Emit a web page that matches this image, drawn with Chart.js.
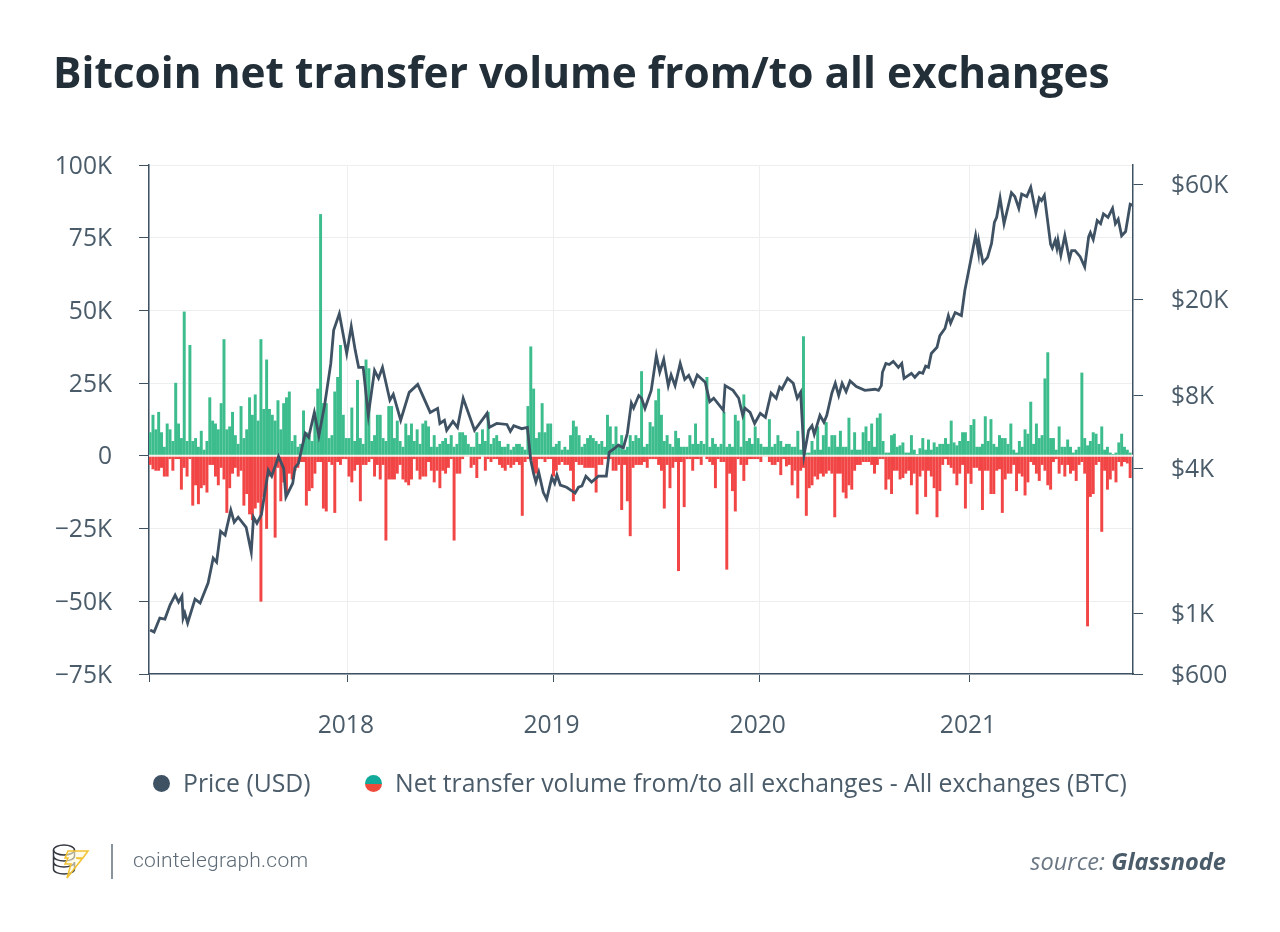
<!DOCTYPE html>
<html><head><meta charset="utf-8">
<script src="https://cdn.jsdelivr.net/npm/chart.js@4"></script>
<style>
html,body{margin:0;padding:0;background:#fff;width:1280px;height:932px;overflow:hidden}
#wrap{position:relative;width:1280px;height:932px;font-family:"Open Sans",sans-serif;color:#4a5b69}
canvas{position:absolute;left:0;top:0}
.t{position:absolute;white-space:nowrap}
#title{left:53px;top:42px;font-size:42.4px;font-weight:700;color:#232f38;line-height:60px}
.leg{font-size:24.75px;line-height:32px;top:767px}
.dot{position:absolute;width:17px;height:17px;border-radius:50%;top:775px}
#site{left:133px;top:846px;font:300 21px/28px Roboto,sans-serif;color:#5e6b76;letter-spacing:.25px}
#src{right:54px;top:845px;font-size:23.6px;line-height:32px;font-style:italic;color:#6b7884}
#src b{color:#4a5b69;font-weight:700}
#bar{position:absolute;left:111px;top:844px;width:2px;height:35px;background:#8a939a}
</style></head><body>
<div id="wrap">
<canvas id="c" width="1280" height="932"></canvas>
<div class="t" id="title">Bitcoin net transfer volume from/to all exchanges</div>
<div class="dot" style="left:153px;background:#3f5264"></div>
<div class="t leg" style="left:183px">Price (USD)</div>
<div class="dot" style="left:365px;background:linear-gradient(#11a99a 50%,#f04a3a 50%)"></div>
<div class="t leg" style="left:395px">Net transfer volume from/to all exchanges - All exchanges (BTC)</div>
<svg style="position:absolute;left:52px;top:843px" width="40" height="38" viewBox="0 0 40 38" fill="none">
<g stroke="#33393f" stroke-width="1.5"><ellipse cx="12" cy="7" rx="10.5" ry="5"/><path d="M1.500 7v6c0 3 5 5 10.500 5s10.500-2 10.500-5V7M1.500 13v6c0 3 5 5 10.500 5s10.500-2 10.500-5M1.500 19v7c0 3 5 5 10.500 5s10.500-2 10.500-5v-7"/></g>
<path d="M16 8h20l-5 7h-7l6 1-15 19 4-14h-6l3-6h-3z" stroke="#f2c230" stroke-width="1.500" fill="#fff8d8" fill-opacity=".6"/>
</svg>
<div id="bar"></div>
<div class="t" id="site">cointelegraph.com</div>
<div class="t" id="src">source: <b>Glassnode</b></div>
</div>
<script>
const yearTickDays=[0,350,712,1075,1445];
const yearTickLabels=['','2018','2019','2020','2021'];
const netTicksK=[-75,-50,-25,0,25,50,75,100];
const priceTickValues=[558,1000,4000,8000,20000,60000];
const priceTickLabels=['$600','$1K','$4K','$8K','$20K','$60K'];

const priceDays=[2,9,19,28,37,46,52,58,60,63,68,81,90,104,113,119,126,134,144,150,157,171,180,184,190,198,210,216,228,237,241,253,257,263,275,281,291,299,309,320,325,335,348,356,363,369,377,386,397,404,411,424,430,443,458,473,495,508,512,520,524,535,543,553,573,595,599,612,630,636,642,656,666,672,677,681,686,694,700,709,714,718,724,735,750,756,762,769,779,791,805,810,818,826,835,842,849,853,862,867,873,884,893,899,906,914,919,926,935,943,950,958,965,979,987,994,1011,1014,1028,1038,1045,1049,1058,1066,1076,1085,1095,1104,1110,1114,1124,1134,1141,1147,1153,1161,1167,1171,1181,1188,1193,1202,1208,1214,1220,1227,1234,1245,1260,1278,1284,1289,1291,1297,1303,1310,1319,1325,1329,1342,1348,1356,1362,1367,1372,1377,1387,1392,1401,1407,1411,1419,1430,1436,1455,1460,1461,1468,1476,1483,1488,1492,1498,1505,1518,1524,1531,1536,1545,1552,1561,1567,1571,1576,1587,1590,1595,1598,1600,1605,1612,1620,1624,1630,1639,1647,1654,1657,1662,1669,1675,1680,1688,1696,1701,1706,1712,1719,1727,1731];
const priceUsd=[850,834,953,944,1079,1187,1110,1176,953,1000,909,1143,1100,1332,1690,1627,2187,2105,2674,2383,2500,2270,1790,2500,2360,2570,3918,3700,4470,3990,3030,3460,4020,4180,5580,5370,6810,5450,7280,10880,14930,17500,11970,15500,12330,10480,10480,6630,10180,9440,10480,7650,8100,6320,8250,8900,6810,7080,6130,6320,5740,6250,5900,7800,5740,6750,5900,6130,6070,5680,6000,5830,5900,4310,3790,3500,3840,3170,2970,3660,3460,3740,3400,3330,3150,3330,3370,3700,3500,3700,3700,4650,4800,4980,4860,5580,7450,7100,8000,7800,7080,8410,11720,10000,11300,8800,9750,8800,10880,9350,9700,8800,9750,9100,7550,7800,6950,8800,8410,7800,6630,7100,6810,6130,6750,6500,8200,7800,8680,8500,9440,9000,7800,8250,4530,5740,6000,5520,6630,6200,6630,8200,9000,8000,9000,8300,9200,8730,8410,8500,8410,8800,10000,10880,10770,11100,10480,10880,9440,9900,9530,10000,9900,10600,10480,11970,12700,14200,15200,17200,16000,17700,17200,21870,37000,31400,34600,28500,30000,34300,41900,44000,52900,41400,55700,53700,48000,55000,53700,58700,45900,53000,51700,54300,34000,32800,35300,32800,35300,30600,36900,29500,32000,32000,30200,27400,36600,38000,35600,42700,41400,45500,44000,48000,41400,43200,36900,38400,49900,49400];

const inflowK=[
8,14,9,15,8,3,11,9,5,25,
11,6,49.5,5,38,5,6,3,8.5,2,
5,20,12,11,9,18,40,9,10,15,
7,4,17,6,9,20,14,21,12,40,
16,33,16,14,12,19,9,18,20,22,
5,7,3,4,15.5,8,7,5,15,23,
83,18,18,6,7,22,27,38,14,6,
6,16.5,5,26,6,4,33,30,5,7,
14,14,6,5,17,17,6,12,5,3,
11,7,11,5,9,4,11,12,10,3,
7,3,4,5,6,4,7,3,4,8,
8,7,4,3,3,8,4,9,5,15,
4,6,7,5,3,3,4,2,3,4,
4,3,2,17,37.5,23,6,8,18,8,
11,11,3,4,5,2,3,2,7,12,
10,7,3,4,6,7,6,5,4,5,
3,14,10,4,10,4,7,2,3,7,
5,7,6,29,3,4,11.5,10,19,23,
14,5,7,4,3,8.5,6,3,3,3,
7,4,11,4,5,4,27,3,6,4,
3,4,15,3,4,3,14,12,3,21,
5,6,4,10,6,4,3,3,12.5,3,
4,7,5,3,4,4,3,3,8.5,2,
41,1,1,5,2,10,2,7,11.5,3,
7,7,3,8.5,3,3,13,2,8,2,
2,8,10,5,11,3,13,14.5,5,1,
1,7,7.5,3,3.5,4.5,1,1,7,2,
0.5,2.5,6,2,5.5,2,4.5,3,4,4,
6,4,12,4.5,3.5,5,8,8,5,10.5,
12.5,3,3,4,13.5,5,12.5,4,3,7,
6,6,4,11,2,1,5,3,9,7.5,
18.5,4,11,6,7,26.5,35.5,6,6,2,
10,3,3,5.5,3,1,2,3,28.5,6,
3.5,5,8,7.5,4,10,2,3,1,0.5,
1,4.5,7.5,3,2,1];
const outflowK=[
3,4.5,5,5,4,7,7,1,5,1,
1,11.5,4,7,1,17,10,16.5,11,10,
12.5,3,3,7,10,4,8,19.5,11,6,
4,7,5,17,13,20,22,18,16,50,
14,25,7,6,28,4,15.5,9,13,6,
8,5,4,2,2,17,12,11,6,2,
2,18,19,2,3,19.5,2,3,1,1,
7,9,5,3,15.5,3,3,2,1,7,
3,8,3,29,8,8,8,6,3,8,
9,10,8,1,5,8,7,7,2,5,
9,5,11,5,6,4,1,29,6,6,
1,0,0,4,3,7.5,1,0,5,1,
2,1,1,3,4,5,3,4,3,2,
3,20.5,2,1,1,6,6,1,1,2,
1,1,7,5,3,2,3,3,5,15.5,
2,3,3,4,4,4,4,12.5,3,3,
1,1,1,5,5,3,18.5,3,15.5,27.5,
4,3,3,3,2,4,1,1,1,3,
5,18,3,11,4,2,39.5,2,17.5,1,
1,5,1,1,3,0,1,2,3,11,
1,2,2,39,6,12,19,1,3,8.5,
3,1,1,1,1,2,0,0,2,3,
3,2,6.5,1,3.5,3,10,5,14.5,5,
4,20.5,11,10,7,8,6,7,6,5,
6,21,6,6,12.5,14.5,10,11.5,5,3,
3,2,2,2,3,6,3,1,1,11.5,
8,13,5,5,8,7.5,6,5,10,6,
20,7,5,14,5,7,11,21,12,3,
1,3,4,6,10,6,3,18,6,9.5,
4,4,5,18.5,5,5,13,13,5,4.5,
19.5,8,6,6,3,12,6,7,13.5,9,
2,3,6,8.5,3,5,10,11.5,2,1,
6,3,7,3,6,5,8.5,3,2,6,
58.5,14,13,3,2,26,5,11.5,8,5,
9,2,3.5,2,2.5,7.5];
const barDays=inflowK.map((_,i)=>i*5+2);
const pts=(a,b,s=1)=>a.map((v,i)=>({x:b[i],y:s*v}));
const FONT='"Open Sans",sans-serif',TXT='#4a5b69',AX='#3f5264',GRID='#eceeef';

const zeroLine={id:'zeroLine',beforeDatasetDraw(ch,args){
  if(args.index!==0)return;
  const g=ch.ctx,a=ch.chartArea,y=ch.scales.y.getPixelForValue(0);
  g.save();g.strokeStyle='#f4f1ea';g.lineWidth=2;g.beginPath();g.moveTo(a.left,y);g.lineTo(a.right,y);g.stroke();g.restore();
}};
new Chart(document.getElementById('c'),{
  type:'bar',
  plugins:[zeroLine],
  data:{datasets:[
    {type:'line',label:'Price (USD)',data:pts(priceUsd,priceDays),yAxisID:'y1',borderColor:'#3f5264',borderWidth:2.8,pointRadius:0,tension:0,order:0},
    {label:'Inflow',data:pts(inflowK,barDays),yAxisID:'y',backgroundColor:'#3dbd8d',barThickness:2.3,grouped:false,order:1},
    {label:'Outflow',data:pts(outflowK,barDays,-1),yAxisID:'y',backgroundColor:'#f24545',barThickness:2.3,grouped:false,order:2}
  ]},
  options:{
    responsive:false,animation:false,
    layout:{padding:{top:165,left:0,right:0,bottom:0}},
    plugins:{legend:{display:false},title:{display:false},tooltip:{enabled:false}},
    scales:{
      x:{type:'linear',offset:false,min:0,max:1732,
        afterFit(s){s.height=258},
        afterBuildTicks(s){s.ticks=yearTickDays.map(v=>({value:v}))},
        grid:{offset:false,color:GRID,tickColor:AX,tickLength:8},
        border:{color:AX,width:1.5},
        ticks:{autoSkip:false,maxRotation:0,padding:29,labelOffset:-2,color:TXT,font:{family:FONT,size:24.6},
          callback:v=>yearTickLabels[yearTickDays.indexOf(v)]}},
      y:{type:'linear',position:'left',min:-75,max:100,
        afterFit(s){s.width=149},
        afterBuildTicks(s){s.ticks=netTicksK.map(v=>({value:v}))},
        grid:{color:GRID,tickColor:AX,tickLength:10},
        border:{color:AX,width:1.5},
        ticks:{padding:27,labelOffset:1.5,color:TXT,font:{family:FONT,size:24.6},
          callback:v=>v===0?'0':(v<0?'\u2212'+(-v):v)+'K'}},
      y1:{type:'logarithmic',position:'right',min:558,max:72600,
        afterFit(s){s.width=147},
        afterBuildTicks(s){s.ticks=priceTickValues.map(v=>({value:v}))},
        grid:{drawOnChartArea:false,tickColor:AX,tickLength:10},
        border:{color:AX,width:1.5},
        ticks:{padding:28,labelOffset:1.5,color:TXT,autoSkip:false,font:{family:FONT,size:24.6},
          callback:v=>priceTickLabels[priceTickValues.indexOf(v)]}}
    }
  }
});
</script>
</body></html>
